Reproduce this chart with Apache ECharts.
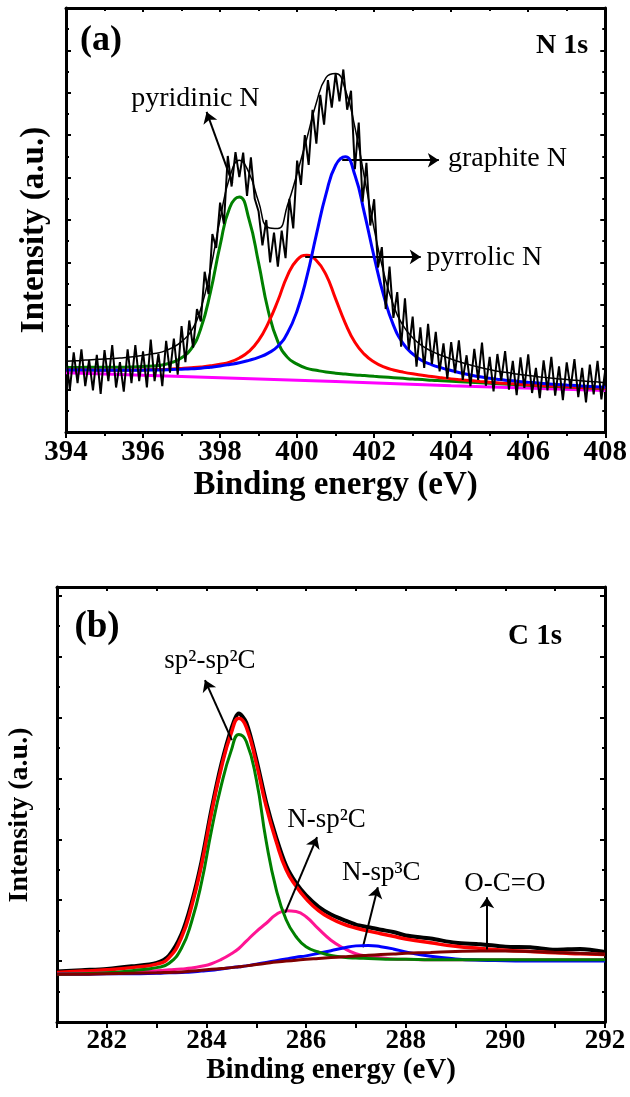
<!DOCTYPE html>
<html lang="en">
<head>
    <meta charset="utf-8">
    <title>XPS N 1s / C 1s</title>
    <style>
        html, body { margin: 0; padding: 0; background: #fff; }
        #main { width: 630px; height: 1097px; }
    </style>
</head>
<body>
<div id="main"></div>

<script src="https://cdn.jsdelivr.net/npm/echarts@6.0.0/dist/echarts.min.js"></script>
<script type="text/javascript">
    // ---------- (a) N 1s ----------
    // raw spectrum, 0.1 eV step
    var nRawE = [394.0, 394.1, 394.2, 394.3, 394.4, 394.5, 394.6, 394.7, 394.8, 394.9,
        395.0, 395.1, 395.2, 395.3, 395.4, 395.5, 395.6, 395.7, 395.8, 395.9,
        396.0, 396.1, 396.2, 396.3, 396.4, 396.5, 396.6, 396.7, 396.8, 396.9,
        397.0, 397.1, 397.2, 397.3, 397.4, 397.5, 397.6, 397.7, 397.8, 397.9,
        398.0, 398.1, 398.2, 398.3, 398.4, 398.5, 398.6, 398.7, 398.8, 398.9,
        399.0, 399.1, 399.2, 399.3, 399.4, 399.5, 399.6, 399.7, 399.8, 399.9,
        400.0, 400.1, 400.2, 400.3, 400.4, 400.5, 400.6, 400.7, 400.8, 400.9,
        401.0, 401.1, 401.2, 401.3, 401.4, 401.5, 401.6, 401.7, 401.8, 401.9,
        402.0, 402.1, 402.2, 402.3, 402.4, 402.5, 402.6, 402.7, 402.8, 402.9,
        403.0, 403.1, 403.2, 403.3, 403.4, 403.5, 403.6, 403.7, 403.8, 403.9,
        404.0, 404.1, 404.2, 404.3, 404.4, 404.5, 404.6, 404.7, 404.8, 404.9,
        405.0, 405.1, 405.2, 405.3, 405.4, 405.5, 405.6, 405.7, 405.8, 405.9,
        406.0, 406.1, 406.2, 406.3, 406.4, 406.5, 406.6, 406.7, 406.8, 406.9,
        407.0, 407.1, 407.2, 407.3, 407.4, 407.5, 407.6, 407.7, 407.8, 407.9,
        408.0];
    var nRaw = [18.0, 10.0, 18.8, 11.5, 19.5, 10.8, 17.0, 9.8, 18.2, 9.0,
        19.3, 12.0, 20.5, 10.5, 16.5, 9.5, 19.5, 11.5, 20.5, 12.0,
        19.0, 10.5, 21.8, 12.0, 18.5, 10.8, 21.5, 14.0, 22.0, 13.5,
        25.0, 16.5, 26.3, 19.9, 29.0, 26.1, 37.8, 32.5, 46.7, 43.4,
        54.1, 49.1, 65.1, 57.9, 66.0, 60.1, 65.9, 55.7, 64.8, 55.0,
        52.0, 44.0, 50.0, 40.0, 47.0, 39.0, 47.5, 41.0, 55.0, 48.0,
        64.0, 58.3, 70.0, 63.0, 76.0, 68.0, 79.5, 72.5, 83.0, 76.5,
        84.5, 78.0, 85.5, 76.0, 80.5, 62.0, 73.0, 54.3, 63.5, 48.7,
        54.9, 38.8, 43.6, 29.0, 39.0, 26.9, 33.0, 20.1, 31.5, 19.4,
        27.2, 15.4, 24.7, 15.1, 25.5, 16.0, 23.6, 14.3, 20.9, 12.6,
        21.2, 13.9, 21.6, 12.3, 18.1, 10.8, 19.6, 12.3, 21.1, 10.9,
        17.7, 9.6, 18.4, 12.2, 19.1, 10.0, 16.8, 8.7, 17.6, 10.4,
        18.3, 9.2, 15.1, 8.0, 16.9, 9.8, 17.7, 8.6, 15.5, 7.5,
        16.4, 10.3, 17.2, 8.2, 15.1, 7.0, 15.9, 8.9, 16.8, 7.7,
        14.6];

    // fitted curves, 0.25 eV step
    var nE = [394, 394.25, 394.5, 394.75, 395, 395.25, 395.5, 395.75, 396, 396.25,
        396.5, 396.75, 397, 397.25, 397.5, 397.75, 398, 398.25, 398.5, 398.75,
        399, 399.25, 399.5, 399.75, 400, 400.25, 400.5, 400.75, 401, 401.25,
        401.5, 401.75, 402, 402.25, 402.5, 402.75, 403, 403.25, 403.5, 403.75,
        404, 404.25, 404.5, 404.75, 405, 405.25, 405.5, 405.75, 406, 406.25,
        406.5, 406.75, 407, 407.25, 407.5, 407.75, 408];
    var nPyridinic = [15.2, 15.2, 15.25, 15.27, 15.27, 15.29, 15.29, 15.35, 15.45, 15.59,
        15.8, 16.4, 17.5, 19.6, 24.4, 33.0, 44.0, 52.9, 55.4, 50.2,
        39.9, 28.6, 21.3, 17.6, 16.0, 15.0, 14.55, 14.15, 13.86, 13.66,
        13.45, 13.3, 13.13, 12.97, 12.81, 12.65, 12.49, 12.37, 12.21, 12.1,
        11.97, 11.86, 11.74, 11.62, 11.5, 11.39, 11.27, 11.15, 11.03, 10.92,
        10.79, 10.72, 10.6, 10.53, 10.41, 10.34, 10.21];
    var nPyrrolic = [14.67, 14.63, 14.61, 14.6, 14.58, 14.57, 14.58, 14.6, 14.64, 14.72,
        14.75, 14.86, 15.0, 15.16, 15.35, 15.6, 15.97, 16.49, 17.45, 19.0,
        21.6, 25.7, 30.95, 36.9, 40.6, 41.7, 40.45, 37.1, 31.4, 25.7,
        21.15, 18.3, 16.5, 15.35, 14.62, 14.13, 13.72, 13.39, 13.07, 12.79,
        12.53, 12.32, 12.12, 11.93, 11.76, 11.57, 11.43, 11.3, 11.16, 11.03,
        10.92, 10.82, 10.71, 10.58, 10.47, 10.37, 10.26];
    var nGraphite = [14.64, 14.63, 14.61, 14.59, 14.57, 14.56, 14.56, 14.56, 14.58, 14.61,
        14.64, 14.73, 14.81, 14.9, 15.03, 15.28, 15.57, 15.93, 16.33, 16.9,
        17.6, 18.6, 20.23, 23.35, 28.6, 36.5, 46.55, 56.1, 62.9, 64.9,
        60.6, 51.5, 41.3, 32.1, 25.2, 20.9, 18.4, 16.8, 15.85, 15.13,
        14.5, 13.93, 13.45, 13.02, 12.67, 12.39, 12.15, 11.92, 11.74, 11.56,
        11.37, 11.2, 11.06, 10.94, 10.81, 10.68, 10.55];
    var nEnvelope = [16.71, 16.8, 16.96, 17.09, 17.21, 17.34, 17.54, 17.74, 18.07, 18.46,
        18.89, 19.83, 21.31, 23.8, 29.08, 38.32, 50.14, 60.06, 64.08, 61.14,
        54.3, 48.24, 47.98, 53.49, 61.0, 69.14, 77.65, 83.59, 84.56, 80.8,
        71.9, 59.94, 47.93, 37.56, 29.93, 25.12, 22.21, 20.3, 19.03, 18.06,
        17.2, 16.45, 15.81, 15.21, 14.73, 14.29, 13.95, 13.61, 13.33, 13.05,
        12.78, 12.58, 12.37, 12.19, 11.99, 11.83, 11.62];
    var nBgE = [394, 398, 401, 404, 408];
    var nBg = [14.0, 12.8, 11.9, 10.9, 9.8];

    var nTicks = {min: 394, max: 408, step: 2};
    var nNotes = [
        {name: 'pyridinic N', coord: [397.36, 78.7]},
        {name: 'graphite N', coord: [405.46, 64.4]},
        {name: 'pyrrolic N', coord: [404.86, 41.2]}
    ];
    var nArrows = [
        [[398.32, 58.7], [397.65, 75.5]],
        [[401.17, 64.1], [403.68, 64.1]],
        [[400.21, 41.3], [403.21, 41.3]]
    ];

    // ---------- (b) C 1s ----------
    var cE = [281, 281.5, 282, 282.5, 283, 283.25, 283.5, 283.7, 283.9, 284.1,
        284.3, 284.5, 284.65, 284.8, 285, 285.2, 285.4, 285.6, 285.8, 286,
        286.25, 286.5, 286.75, 287, 287.25, 287.5, 287.75, 288, 288.5, 289,
        289.5, 290, 290.5, 291, 291.5, 292];
    var cRaw = [11.6, 11.9, 12.2, 12.8, 13.6, 15.3, 20.2, 27.3, 36.8, 48.8,
        59.3, 67.4, 70.9, 68.8, 60.4, 50.4, 42.4, 35.9, 31.9, 29.1,
        26.5, 24.7, 23.5, 22.4, 21.8, 21.2, 20.7, 19.9, 19.2, 18.2,
        17.9, 17.3, 17.2, 16.6, 16.8, 16.1];
    var cSum = [11.4, 11.7, 12.0, 12.5, 13.3, 14.8, 19.5, 26.5, 36.0, 48.0,
        58.5, 66.5, 69.8, 67.8, 59.5, 49.5, 41.5, 35.0, 31.2, 28.3,
        25.6, 23.8, 22.5, 21.6, 20.9, 20.3, 19.7, 19.1, 18.2, 17.4,
        16.9, 16.5, 16.2, 15.9, 15.7, 15.5];
    var cSp2 = [11.0, 11.1, 11.3, 11.8, 12.5, 13.5, 17.0, 23.0, 32.0, 44.0,
        54.5, 62.5, 66.1, 64.5, 55.8, 41.5, 30.5, 23.5, 19.6, 17.3,
        16.1, 15.3, 14.9, 14.7, 14.6, 14.5, 14.4, 14.4, 14.3, 14.3,
        14.3, 14.3, 14.3, 14.3, 14.3, 14.3];
    var cNsp2 = [11.1, 11.2, 11.3, 11.5, 11.8, 12.0, 12.2, 12.4, 12.8, 13.4,
        14.4, 15.7, 16.9, 18.6, 20.8, 22.7, 24.7, 25.6, 25.4, 24.2,
        21.4, 18.8, 17.0, 15.7, 15.1, 14.8, 14.5, 14.4, 14.3, 14.3,
        14.3, 14.3, 14.3, 14.3, 14.3, 14.3];
    var cNsp3 = [11.0, 11.0, 11.1, 11.1, 11.2, 11.3, 11.4, 11.5, 11.7, 11.9,
        12.2, 12.5, 12.7, 12.9, 13.3, 13.7, 14.1, 14.5, 14.9, 15.2,
        15.8, 16.4, 17.0, 17.5, 17.6, 17.3, 16.8, 16.1, 15.1, 14.5,
        14.2, 14.1, 14.0, 14.0, 14.0, 14.0];
    var cOCO = [11.0, 11.0, 11.1, 11.2, 11.3, 11.4, 11.5, 11.7, 11.9, 12.1,
        12.3, 12.5, 12.7, 12.9, 13.2, 13.5, 13.8, 14.0, 14.2, 14.4,
        14.6, 14.8, 15.0, 15.2, 15.35, 15.5, 15.65, 15.8, 16.0, 16.2,
        16.3, 16.3, 16.2, 16.0, 15.8, 15.5];

    var cTicks = {min: 281, max: 292, step: 1};
    var cNotes = [
        {name: 'sp²-sp²C', coord: [284.07, 83.0]},
        {name: 'N-sp²C', coord: [286.41, 46.4]},
        {name: 'N-sp³C', coord: [287.51, 34.3]},
        {name: 'O-C=O', coord: [289.99, 31.7]}
    ];
    var cArrows = [
        [[284.51, 64.8], [283.97, 78.6]],
        [[285.58, 25.1], [286.22, 42.5]],
        [[287.14, 17.2], [287.44, 31.0]],
        [[289.63, 16.6], [289.63, 28.7]]
    ];

    var FONT = 'Liberation Serif';

    function pairs(xs, ys) {
        return xs.map(function (x, i) { return [x, ys[i]]; });
    }

    function curve(grid, xs, ys, color, width, smooth, z) {
        return {
            type: 'line', xAxisIndex: grid * 2, yAxisIndex: grid * 2,
            data: pairs(xs, ys), showSymbol: false, smooth: smooth, z: z,
            lineStyle: {color: color, width: width}, silent: true
        };
    }

    function notes(list, arrows, size) {
        return {
            markPoint: {
                silent: true, symbol: 'circle', symbolSize: 1,
                itemStyle: {color: 'rgba(0,0,0,0)'},
                label: {show: true, position: 'inside', formatter: '{b}', color: '#000',
                    fontFamily: FONT, fontSize: size, fontWeight: 'normal'},
                data: list.map(function (n) { return {name: n.name, coord: n.coord}; })
            },
            markLine: {
                silent: true, symbol: ['none', 'arrow'], symbolSize: 11,
                lineStyle: {color: '#000', width: 2, type: 'solid'},
                itemStyle: {color: '#000'},
                label: {show: false}, emphasis: {disabled: true},
                data: arrows.map(function (a) { return [{coord: a[0]}, {coord: a[1]}]; })
            }
        };
    }

    function xAxis(grid, t, pos, labelSize, name, nameSize, nameGap, evenOnly) {
        var bottom = pos === 'bottom';
        return {
            gridIndex: grid, type: 'value', position: pos,
            min: t.min, max: t.max, interval: t.step,
            axisLine: {onZero: false, lineStyle: {color: '#000', width: 3}},
            axisTick: {show: true, inside: !bottom, length: bottom ? 6 : 4,
                lineStyle: {color: '#000', width: 2}},
            minorTick: {show: !evenOnly, splitNumber: 2, length: bottom ? 4 : 3,
                lineStyle: {color: '#000', width: 2}},
            axisLabel: {show: bottom, margin: 6, color: '#000', fontFamily: FONT,
                fontSize: labelSize, fontWeight: 'bold',
                formatter: function (v) { return (evenOnly && v % 2 !== 0) ? '' : String(v); }},
            splitLine: {show: false},
            name: bottom ? name : '', nameLocation: 'middle', nameGap: nameGap,
            nameTextStyle: {color: '#000', fontFamily: FONT, fontSize: nameSize, fontWeight: 'bold'}
        };
    }

    function yAxis(grid, pos, step) {
        return {
            gridIndex: grid, type: 'value', position: pos, min: 0, max: 100, interval: step,
            axisLine: {onZero: false, lineStyle: {color: '#000', width: 3}},
            axisTick: {show: true, inside: true, length: 5, lineStyle: {color: '#000', width: 2}},
            minorTick: {show: true, splitNumber: 2, length: 3, lineStyle: {color: '#000', width: 2}},
            axisLabel: {show: false},
            splitLine: {show: false}
        };
    }

    var myChart = echarts.init(document.getElementById('main'), null, {renderer: 'canvas'});

    var nRawSeries = curve(0, nRawE, nRaw, '#000', 2, false, 8);
    Object.assign(nRawSeries, notes(nNotes, nArrows, 28));
    var cTopSeries = curve(1, cE, cOCO, '#800000', 3, true, 8);
    Object.assign(cTopSeries, notes(cNotes, cArrows, 27));

    var option = {
        animation: false,
        backgroundColor: '#fff',
        grid: [
            {left: 66, top: 8, width: 541, height: 424},
            {left: 57, top: 587, width: 548, height: 435}
        ],
        xAxis: [
            xAxis(0, nTicks, 'bottom', 29, 'Binding energy (eV)', 33, 37, false),
            xAxis(0, nTicks, 'top', 29, '', 33, 37, false),
            xAxis(1, cTicks, 'bottom', 27, 'Binding energy (eV)', 29, 31, true),
            xAxis(1, cTicks, 'top', 27, '', 29, 31, true)
        ],
        yAxis: [
            yAxis(0, 'left', 10),
            yAxis(0, 'right', 10),
            yAxis(1, 'left', 14),
            yAxis(1, 'right', 14)
        ],
        series: [
            curve(0, nBgE, nBg, '#ff00ff', 3, false, 2),
            curve(0, nE, nPyridinic, '#008000', 3, true, 3),
            curve(0, nE, nPyrrolic, '#ff0000', 3, true, 4),
            curve(0, nE, nGraphite, '#0000ff', 3, true, 5),
            curve(0, nE, nEnvelope, '#000', 1.5, true, 6),
            nRawSeries,

            curve(1, cE, cRaw, '#000', 4, 0.3, 2),
            curve(1, cE, cSum, '#ff0000', 3.5, true, 3),
            curve(1, cE, cNsp2, '#ff1493', 3, true, 4),
            curve(1, cE, cNsp3, '#0000ff', 3, true, 5),
            curve(1, cE, cSp2, '#008000', 3, true, 6),
            cTopSeries
        ],
        graphic: [
            {type: 'text', x: 101, y: 41, style: {text: '(a)', fill: '#000',
                font: 'bold 36px "Liberation Serif"', align: 'center', verticalAlign: 'middle'}},
            {type: 'text', x: 562, y: 46, style: {text: 'N 1s', fill: '#000',
                font: 'bold 28px "Liberation Serif"', align: 'center', verticalAlign: 'middle'}},
            {type: 'text', x: 97, y: 627, style: {text: '(b)', fill: '#000',
                font: 'bold 37px "Liberation Serif"', align: 'center', verticalAlign: 'middle'}},
            {type: 'text', x: 535, y: 637, style: {text: 'C 1s', fill: '#000',
                font: 'bold 29px "Liberation Serif"', align: 'center', verticalAlign: 'middle'}},
            {type: 'text', x: 34, y: 230, rotation: Math.PI / 2, style: {text: 'Intensity (a.u.)', fill: '#000',
                font: 'bold 33px "Liberation Serif"', align: 'center', verticalAlign: 'middle'}},
            {type: 'text', x: 20, y: 815, rotation: Math.PI / 2, style: {text: 'Intensity (a.u.)', fill: '#000',
                font: 'bold 28px "Liberation Serif"', align: 'center', verticalAlign: 'middle'}}
        ]
    };

    myChart.setOption(option);
</script>
</body>
</html>
